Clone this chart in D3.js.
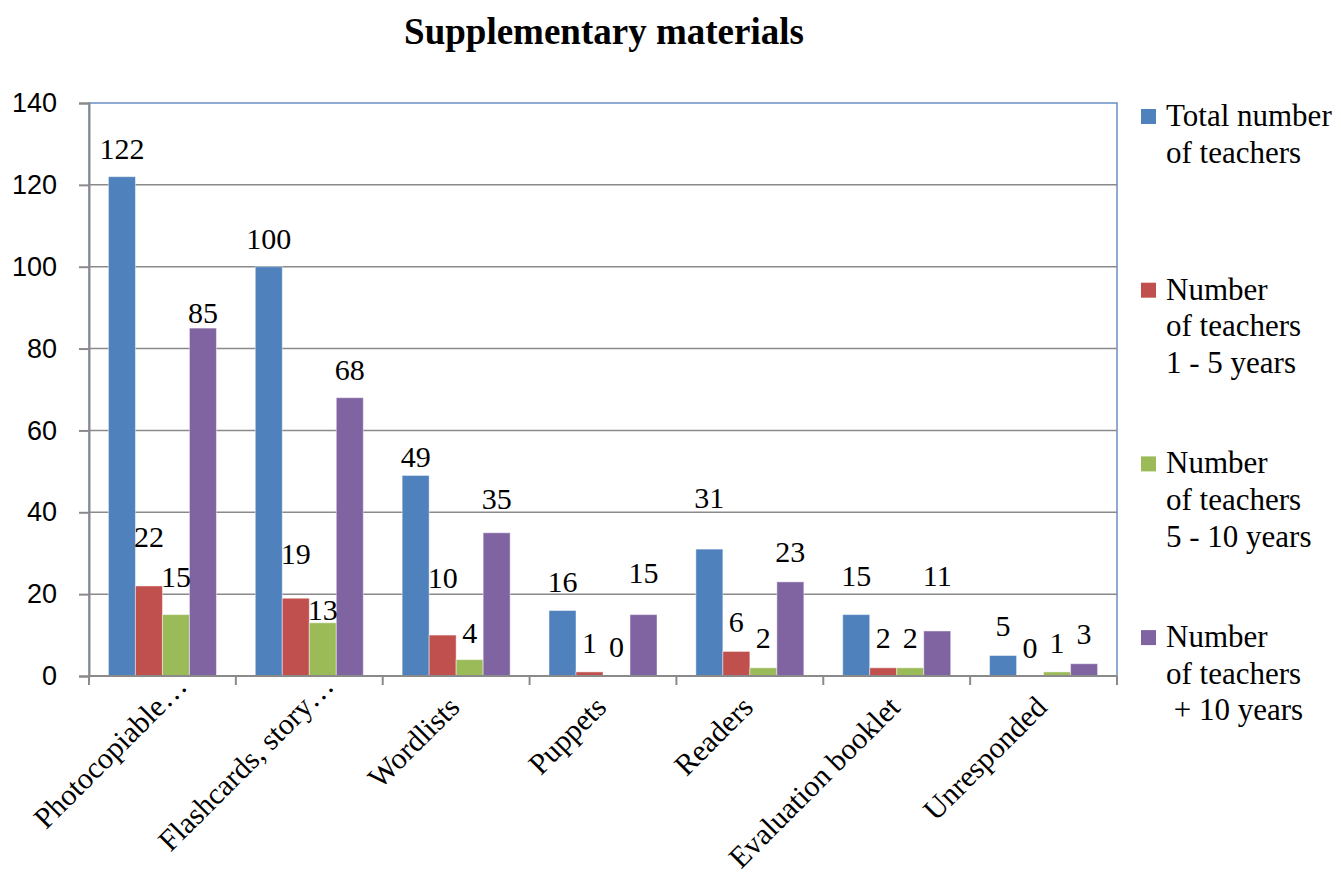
<!DOCTYPE html>
<html>
<head>
<meta charset="utf-8">
<script src="https://cdn.jsdelivr.net/npm/d3@7"></script>
<style>
  body { margin: 0; background: #fff; }
  #chart { width: 1341px; height: 884px; }
  text { fill: #000; }
  .serif { font-family: 'Liberation Serif', 'Times New Roman', Tinos, 'DejaVu Serif', 'Noto Serif', Times, serif; }
  .sans { font-family: 'Liberation Sans', Arial, Arimo, sans-serif; }
</style>
</head>
<body>
<div id="chart"></div>
<script>
// categories on the x axis
const categories = ['Photocopiable…', 'Flashcards, story…', 'Wordlists', 'Puppets', 'Readers', 'Evaluation booklet', 'Unresponded'];

// series names and the way the legend breaks them into lines
const seriesNames = ['total', 'years1to5', 'years5to10', 'years10plus'];
const legendLines = [
  ['Total number', 'of teachers'],
  ['Number', 'of teachers', '1 - 5 years'],
  ['Number', 'of teachers', '5 - 10 years'],
  ['Number', 'of teachers', ' + 10 years']
];

// values per series, one per category
const totalTeachers = [122, 100, 49, 16, 31, 15, 5];
const teachers1to5 = [22, 19, 10, 1, 6, 2, 0];
const teachers5to10 = [15, 13, 4, 0, 2, 2, 1];
const teachers10plus = [85, 68, 35, 15, 23, 11, 3];

// where the data labels sit, in axis units (labels were dragged by hand)
const labelLevelsTotal = [126.3, 104.4, 51, 20.5, 41, 22, 9.8];
const labelLevels1to5 = [31.5, 27.3, 21.5, 5.6, 10.7, 6.8, 4.4];
const labelLevels5to10 = [21.7, 13.7, 8, 4.6, 6.8, 6.8, 5.6];
const labelLevels10plus = [86.3, 72.4, 40.7, 22.7, 27.8, 22, 7.8];

// y axis ticks
const yTicks = [0, 20, 40, 60, 80, 100, 120, 140];

(function () {

  const width = 1341;
  const height = 884;
  const margin = { top: 103, right: 224, bottom: 208, left: 89 };

  const colors = ['#4f81bd', '#c0504d', '#9bbb59', '#8064a2'];

  const values = [totalTeachers, teachers1to5, teachers5to10, teachers10plus];
  const labelLevels = [labelLevelsTotal, labelLevels1to5, labelLevels5to10, labelLevels10plus];

  // build a flat list of bars from the arrays
  const bars = [];
  categories.forEach((cat, i) => {
    seriesNames.forEach((s, j) => {
      bars.push({ cat: cat, series: s, idx: j, value: values[j][i], level: labelLevels[j][i] });
    });
  });

  const svg = d3.select('#chart')
    .append('svg')
    .attr('width', width)
    .attr('height', height);

  const x0 = d3.scaleBand()
    .domain(categories)
    .range([margin.left, width - margin.right])
    .paddingInner(0.2646)
    .paddingOuter(0.1323);

  const x1 = d3.scaleBand()
    .domain(seriesNames)
    .range([0, x0.bandwidth()]);

  const y = d3.scaleLinear()
    .domain([0, 140])
    .range([height - margin.bottom, margin.top]);

  const color = d3.scaleOrdinal().domain(seriesNames).range(colors);

  const left = margin.left;
  const right = width - margin.right;
  const bottom = y(0);

  // title
  svg.append('text')
    .attr('class', 'serif')
    .attr('x', 604)
    .attr('y', 44)
    .attr('text-anchor', 'middle')
    .style('font-weight', 'bold')
    .style('font-size', '37px')
    .text('Supplementary materials');

  // plot area border (blue)
  svg.append('rect')
    .attr('x', left)
    .attr('y', y(140))
    .attr('width', right - left)
    .attr('height', bottom - y(140))
    .attr('fill', 'none')
    .attr('stroke', '#6a8fc4')
    .attr('stroke-width', 1.5);

  // horizontal gridlines
  svg.append('g')
    .selectAll('line')
    .data(yTicks.filter(d => d > 0 && d < 140))
    .join('line')
    .attr('x1', left)
    .attr('x2', right)
    .attr('y1', d => y(d))
    .attr('y2', d => y(d))
    .attr('stroke', '#8a8a8a')
    .attr('stroke-width', 1.5);

  // bars
  svg.append('g')
    .selectAll('rect')
    .data(bars)
    .join('rect')
    .attr('x', d => x0(d.cat) + x1(d.series))
    .attr('y', d => y(d.value))
    .attr('width', x1.bandwidth())
    .attr('height', d => bottom - y(d.value))
    .attr('fill', d => color(d.series))
    .attr('stroke', 'rgba(255,255,255,0.45)')
    .attr('stroke-width', 1);

  // y axis
  const yAxis = svg.append('g')
    .attr('transform', `translate(${left},0)`)
    .call(d3.axisLeft(y).tickValues(yTicks).tickSize(10).tickPadding(22));
  yAxis.attr('font-family', null).attr('font-size', null);
  yAxis.select('.domain').attr('stroke', '#8a8a8a').attr('stroke-width', 2);
  yAxis.selectAll('.tick line').attr('stroke', '#8a8a8a').attr('stroke-width', 2);
  yAxis.selectAll('.tick text')
    .attr('class', 'sans')
    .style('font-size', '27px')
    .attr('fill', '#000');

  // x axis line and category boundary ticks
  const step = x0.step();
  svg.append('line')
    .attr('x1', left)
    .attr('x2', right)
    .attr('y1', bottom)
    .attr('y2', bottom)
    .attr('stroke', '#8a8a8a')
    .attr('stroke-width', 2);

  svg.append('g')
    .selectAll('line')
    .data(d3.range(categories.length + 1))
    .join('line')
    .attr('x1', i => left + i * step)
    .attr('x2', i => left + i * step)
    .attr('y1', bottom)
    .attr('y2', bottom + 9)
    .attr('stroke', '#8a8a8a')
    .attr('stroke-width', 2);

  // rotated category labels
  svg.append('g')
    .selectAll('text')
    .data(categories)
    .join('text')
    .attr('class', 'serif')
    .attr('transform', d => `translate(${x0(d) + x0.bandwidth() / 2 + 5},${bottom + 33}) rotate(-45)`)
    .attr('text-anchor', 'end')
    .attr('dx', d => d.endsWith('…') ? '1em' : 0)
    .style('font-size', '30px')
    .text(d => d);

  // data labels
  svg.append('g')
    .selectAll('text')
    .data(bars)
    .join('text')
    .attr('class', 'serif')
    .attr('x', d => x0(d.cat) + x1(d.series) + x1.bandwidth() / 2)
    .attr('y', d => y(d.level))
    .attr('text-anchor', 'middle')
    .style('font-size', '30px')
    .text(d => d.value);

  // legend
  const legend = svg.append('g')
    .selectAll('g')
    .data(seriesNames)
    .join('g')
    .attr('transform', (d, i) => `translate(1141,${126 + i * 173.7})`);

  legend.append('rect')
    .attr('x', 0)
    .attr('y', -17)
    .attr('width', 15)
    .attr('height', 15)
    .attr('fill', d => color(d));

  legend.append('text')
    .attr('class', 'serif')
    .style('font-size', '31px')
    .style('white-space', 'pre')
    .selectAll('tspan')
    .data((d, i) => legendLines[i])
    .join('tspan')
    .attr('x', 25)
    .attr('y', (d, k) => k * 36.6)
    .text(d => d);

})();
</script>
</body>
</html>
